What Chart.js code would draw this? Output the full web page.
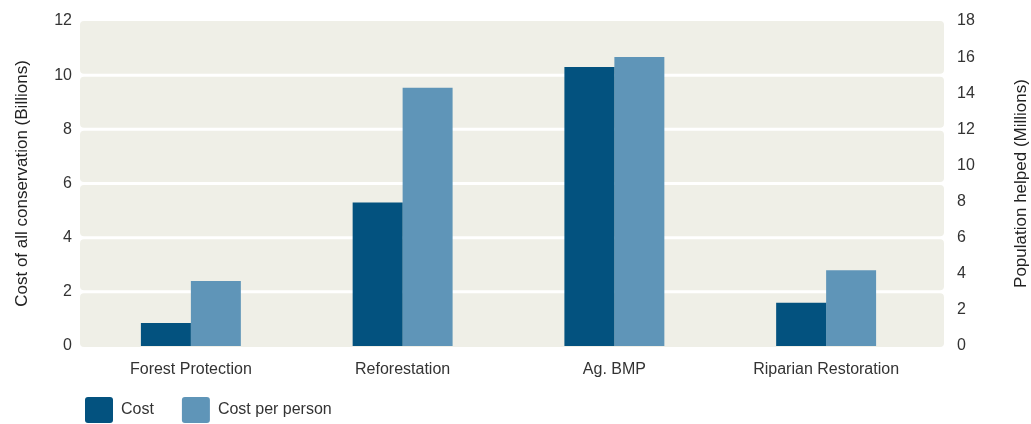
<!DOCTYPE html>
<html>
<head>
<meta charset="utf-8">
<script src="https://cdn.jsdelivr.net/npm/chart.js@4/dist/chart.umd.min.js"></script>
<style>
  html, body { margin: 0; padding: 0; background: #fff; }
  #wrap { width: 1031px; height: 424px; }
</style>
</head>
<body>
<div id="wrap"><canvas id="chartCanvas" width="1031" height="424"></canvas></div>
<script>
// Chart data
const categories = ['Forest Protection', 'Reforestation', 'Ag. BMP', 'Riparian Restoration'];
const costValues = [0.85, 5.3, 10.3, 1.6];          // left axis, billions
const perPersonValues = [3.6, 14.3, 16.0, 4.2];     // right axis, millions
const leftTicks = [0, 2, 4, 6, 8, 10, 12];
const rightTicks = [0, 2, 4, 6, 8, 10, 12, 14, 16, 18];

const fontFamily = '"Liberation Sans", Arial, sans-serif';
const textColor = '#333333';
const darkBlue = '#03527f';
const lightBlue = '#5f95b8';

Chart.defaults.font.family = fontFamily;
Chart.defaults.color = textColor;

// Beige plot bands separated by white lines
const bandPlugin = {
    id: 'bands',
    beforeDraw(chart) {
        const ctx = chart.ctx;
        const y = chart.scales.y;
        const area = chart.chartArea;
        const n = y.ticks.length;
        ctx.save();
        ctx.fillStyle = '#efefe7';
        for (let i = 0; i < n - 1; i++) {
            const bottom = y.getPixelForTick(i) - (i > 0 ? 1.5 : -1);
            const top = y.getPixelForTick(i + 1) + (i + 1 < n - 1 ? 1.5 : 0);
            ctx.beginPath();
            ctx.roundRect(area.left - 5, top, area.width + 17, bottom - top, 4);
            ctx.fill();
        }
        ctx.restore();
    },
    afterLayout(chart) {
        // legend sits at the plot's left edge, near the bottom
        const lg = chart.legend;
        const pad = lg.options.labels.padding;
        lg.left -= pad;
        lg.top = lg.bottom - lg.options.labels.boxHeight - 1 - pad;
    },
    afterDraw(chart) {
        // right axis title reads bottom-to-top like the left one
        const ctx = chart.ctx;
        const area = chart.chartArea;
        ctx.save();
        ctx.translate(1021, (area.top + area.bottom) / 2);
        ctx.rotate(-Math.PI / 2);
        ctx.font = '17px ' + fontFamily;
        ctx.fillStyle = '#222222';
        ctx.textAlign = 'center';
        ctx.textBaseline = 'middle';
        ctx.fillText('Population helped (Millions)', 0, 0);
        ctx.restore();
    }
};

// fixed axis width, no extra vertical padding from tick labels
function fixWidth(width) {
    return (scale) => {
        scale.width = width;
        scale.paddingTop = 0;
        scale.paddingBottom = 0;
    };
}

const ctx = document.getElementById('chartCanvas').getContext('2d');
const chart = new Chart(ctx, {
    type: 'bar',
    data: {
        labels: categories,
        datasets: [
            {
                label: 'Cost',
                data: costValues,
                backgroundColor: darkBlue,
                yAxisID: 'y',
                borderWidth: 0,
                barPercentage: 1.0,
                categoryPercentage: 0.472
            },
            {
                label: 'Cost per person',
                data: perPersonValues,
                backgroundColor: lightBlue,
                yAxisID: 'y1',
                borderWidth: 0,
                barPercentage: 1.0,
                categoryPercentage: 0.472
            }
        ]
    },
    options: {
        responsive: false,
        maintainAspectRatio: false,
        animation: false,
        layout: { padding: { top: 21, left: 0, right: 0, bottom: 0 } },
        plugins: {
            legend: {
                position: 'bottom',
                align: 'start',
                fullSize: false,
                maxHeight: 42,
                labels: {
                    boxWidth: 28,
                    boxHeight: 26,
                    padding: 28,
                    useBorderRadius: true,
                    borderRadius: 3,
                    color: textColor,
                    font: { size: 16 }
                }
            },
            tooltip: { enabled: false }
        },
        scales: {
            x: {
                grid: { display: false, drawTicks: false },
                border: { display: false },
                ticks: { padding: 14, color: textColor, font: { size: 16 } },
                afterFit: (scale) => { scale.height = 36; }
            },
            y: {
                position: 'left',
                min: 0,
                max: 12,
                afterBuildTicks: (scale) => { scale.ticks = leftTicks.map(v => ({ value: v })); },
                grid: { display: false, drawTicks: false },
                border: { display: false },
                ticks: { padding: 13, color: textColor, font: { size: 16 } },
                title: {
                    display: true,
                    text: 'Cost of all conservation (Billions)',
                    color: '#222222',
                    font: { size: 17 },
                    padding: { top: 12, bottom: 0 }
                },
                afterFit: fixWidth(85)
            },
            y1: {
                position: 'right',
                min: 0,
                max: 18,
                afterBuildTicks: (scale) => { scale.ticks = rightTicks.map(v => ({ value: v })); },
                grid: { display: false, drawTicks: false },
                border: { display: false },
                ticks: { padding: 25, color: textColor, font: { size: 16 } },
                afterFit: fixWidth(99)
            }
        }
    },
    plugins: [bandPlugin]
});
</script>
</body>
</html>
